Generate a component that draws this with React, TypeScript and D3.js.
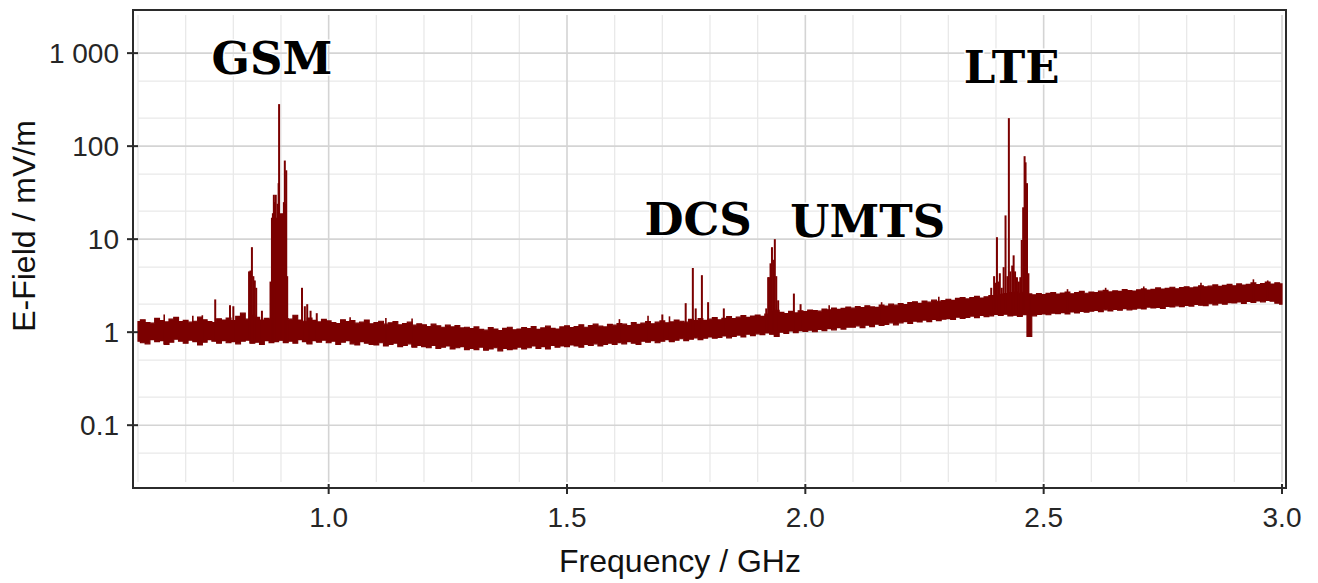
import React from "react";
import * as d3 from "d3";

// Sampling grid of the noise-floor envelope (GHz)
const FREQ_START = 0.6;
const FREQ_STEP = 0.01;

// Upper envelope of the noise floor (mV/m), one value every 0.01 GHz from 0.60 to 3.00
const floorHigh: number[] = [
  1.30, 1.36, 1.27, 1.25, 1.41, 1.33, 1.29, 1.38, 1.44, 1.30,
  1.34, 1.28, 1.31, 1.45, 1.36, 1.30, 1.27, 1.39, 1.35, 1.42,
  1.33, 1.48, 1.60, 1.38, 1.52, 1.44, 1.35, 1.41, 1.37, 1.50,
  1.46, 1.40, 1.38, 1.52, 1.35, 1.31, 1.42, 1.34, 1.29, 1.37,
  1.32, 1.27, 1.24, 1.36, 1.30, 1.33, 1.25, 1.28, 1.35, 1.23,
  1.27, 1.31, 1.22, 1.26, 1.30, 1.20, 1.24, 1.28, 1.19, 1.23,
  1.20, 1.15, 1.22, 1.17, 1.13, 1.19, 1.14, 1.18, 1.11, 1.13,
  1.09, 1.14, 1.07, 1.05, 1.12, 1.08, 1.04, 1.10, 1.13, 1.06,
  1.08, 1.12, 1.09, 1.15, 1.07, 1.11, 1.16, 1.10, 1.08, 1.14,
  1.17, 1.12, 1.15, 1.20, 1.13, 1.18, 1.22, 1.16, 1.14, 1.21,
  1.19, 1.24, 1.22, 1.18, 1.27, 1.21, 1.25, 1.30, 1.23, 1.28,
  1.32, 1.26, 1.29, 1.35, 1.31, 1.28, 1.37, 1.33, 1.40, 1.34,
  1.38, 1.43, 1.36, 1.41, 1.47, 1.40, 1.45, 1.51, 1.44, 1.49,
  1.53, 1.48, 1.56, 1.68, 1.72, 1.63, 1.58, 1.67, 1.61, 1.70,
  1.66, 1.73, 1.71, 1.68, 1.77, 1.74, 1.82, 1.76, 1.80, 1.86,
  1.81, 1.88, 1.84, 1.92, 1.87, 1.85, 1.96, 1.91, 2.00, 1.95,
  2.03, 1.98, 2.08, 2.12, 2.04, 2.16, 2.10, 2.21, 2.15, 2.19,
  2.26, 2.20, 2.31, 2.36, 2.28, 2.35, 2.42, 2.33, 2.40, 2.47,
  2.44, 2.55, 2.60, 2.66, 2.70, 2.62, 2.68, 2.58, 2.52, 2.60,
  2.54, 2.61, 2.66, 2.57, 2.63, 2.70, 2.59, 2.67, 2.74, 2.62,
  2.70, 2.66, 2.76, 2.81, 2.71, 2.78, 2.74, 2.86, 2.80, 2.77,
  2.85, 2.92, 2.84, 2.89, 2.99, 2.91, 2.95, 3.04, 2.93, 3.01,
  3.08, 2.99, 3.05, 3.15, 3.07, 3.12, 3.22, 3.10, 3.18, 3.26,
  3.15, 3.30, 3.21, 3.27, 3.38, 3.24, 3.33, 3.46, 3.29, 3.40,
  3.30,
];

// Lower envelope of the noise floor (mV/m), same grid
const floorLow: number[] = [
  0.80, 0.77, 0.75, 0.83, 0.79, 0.81, 0.74, 0.78, 0.84, 0.80,
  0.76, 0.82, 0.79, 0.73, 0.78, 0.83, 0.80, 0.76, 0.81, 0.77,
  0.79, 0.75, 0.80, 0.82, 0.76, 0.78, 0.74, 0.81, 0.77, 0.79,
  0.82, 0.77, 0.80, 0.76, 0.83, 0.79, 0.75, 0.81, 0.78, 0.82,
  0.77, 0.80, 0.74, 0.78, 0.81, 0.75, 0.73, 0.79, 0.76, 0.74,
  0.73, 0.77, 0.71, 0.74, 0.76, 0.70, 0.72, 0.75, 0.69, 0.72,
  0.70, 0.68, 0.72, 0.67, 0.69, 0.71, 0.66, 0.68, 0.70, 0.65,
  0.67, 0.65, 0.69, 0.64, 0.66, 0.68, 0.63, 0.67, 0.65, 0.66,
  0.69, 0.66, 0.68, 0.71, 0.67, 0.70, 0.66, 0.72, 0.69, 0.71,
  0.70, 0.73, 0.71, 0.69, 0.74, 0.72, 0.75, 0.71, 0.74, 0.76,
  0.74, 0.77, 0.75, 0.79, 0.76, 0.74, 0.80, 0.78, 0.81, 0.77,
  0.80, 0.83, 0.79, 0.82, 0.85, 0.81, 0.84, 0.87, 0.83, 0.86,
  0.89, 0.86, 0.88, 0.91, 0.87, 0.90, 0.93, 0.89, 0.95, 0.92,
  0.96, 0.94, 0.98, 0.95, 0.90, 1.00, 0.97, 1.03, 0.99, 1.04,
  1.02, 1.05, 1.01, 1.07, 1.04, 1.09, 1.06, 1.12, 1.08, 1.13,
  1.13, 1.17, 1.12, 1.19, 1.15, 1.22, 1.18, 1.21, 1.26, 1.20,
  1.26, 1.30, 1.24, 1.31, 1.29, 1.35, 1.30, 1.37, 1.33, 1.38,
  1.40, 1.37, 1.45, 1.41, 1.44, 1.49, 1.43, 1.51, 1.47, 1.50,
  1.55, 1.51, 1.56, 1.50, 1.52, 1.48, 1.54, 0.90, 1.50, 1.55,
  1.57, 1.54, 1.60, 1.58, 1.62, 1.57, 1.65, 1.61, 1.67, 1.64,
  1.68, 1.71, 1.66, 1.74, 1.69, 1.76, 1.72, 1.79, 1.74, 1.77,
  1.81, 1.78, 1.86, 1.82, 1.85, 1.80, 1.89, 1.87, 1.92, 1.88,
  1.94, 1.91, 1.99, 1.95, 1.93, 2.02, 1.97, 2.05, 2.00, 2.08,
  2.06, 2.11, 2.04, 2.14, 2.09, 2.17, 2.12, 2.20, 2.15, 2.05,
  2.00,
];

// Emission spikes: frequency (GHz) and peak field (mV/m)
const spikeFreq: number[] = [
  // GSM
  0.762, 0.793, 0.800, 0.833, 0.836, 0.839, 0.842, 0.845, 0.848, 0.860, 0.878,
  0.881, 0.883, 0.885, 0.887, 0.889, 0.891, 0.893, 0.895, 0.896, 0.898, 0.900,
  0.902, 0.904, 0.906, 0.908, 0.910, 0.911, 0.913, 0.944, 0.950, 0.955, 0.962, 0.975,
  // DCS
  1.700, 1.749, 1.764, 1.770, 1.783, 1.796, 1.829,
  // UMTS
  1.918, 1.922, 1.924, 1.927, 1.930, 1.933, 1.936, 1.939, 1.943, 1.976, 1.990,
  // LTE
  2.390, 2.396, 2.399, 2.402, 2.405, 2.408, 2.412, 2.416, 2.420, 2.424, 2.427,
  2.430, 2.434, 2.437, 2.440, 2.444, 2.448, 2.451, 2.454, 2.457, 2.460, 2.462,
  2.465, 2.468, 2.475,
];
const spikeValue: number[] = [
  // GSM
  2.25, 1.95, 1.9, 4.5, 4.6, 8.2, 4.0, 3.6, 3.0, 1.7, 3.5,
  17, 19, 30, 25, 30, 17, 24, 40, 283, 17, 19,
  17, 19, 25, 70, 24, 55, 4.0, 3.0, 1.9, 2.0, 1.7, 1.6,
  // DCS
  1.55, 2.05, 4.9, 1.8, 4.1, 2.1, 1.8,
  // UMTS
  1.8, 3.9, 3.9, 5.5, 8.2, 6.0, 10, 4.0, 2.2, 2.6, 2.0,
  // LTE
  3.0, 4.0, 3.4, 10.5, 3.5, 4.3, 3.0, 5.0, 18, 4.0, 200,
  4.5, 5.2, 6.7, 4.5, 3.9, 3.5, 3.9, 9.8, 22, 78, 67,
  40, 4.3, 2.5,
];

// Small noise spikes above the floor
const noiseSpikeFreq: number[] = [
  0.655, 0.715, 0.735, 1.045, 1.12, 1.175, 1.61, 1.67, 1.715, 2.05, 2.16, 2.28,
  2.55, 2.63, 2.71, 2.83, 2.94, 2.97,
];
const noiseSpikeValue: number[] = [
  1.55, 1.5, 1.52, 1.45, 1.42, 1.4, 1.38, 1.5, 1.48, 1.95, 2.1, 2.4,
  2.9, 3.0, 3.1, 3.4, 3.7, 3.6,
];

// Band annotations
const bandNames: string[] = ["GSM", "DCS", "UMTS", "LTE"];
const bandLabelFreq: number[] = [0.881, 1.775, 2.131, 2.433];
const bandLabelValue: number[] = [594, 11.0, 10.5, 480];

// Axes
const xTicks: number[] = [1.0, 1.5, 2.0, 2.5, 3.0];
const xMinorGrid: number[] = [
  0.6, 0.7, 0.8, 0.9, 1.1, 1.2, 1.3, 1.4, 1.6, 1.7, 1.8, 1.9, 2.1, 2.2, 2.3, 2.4,
  2.6, 2.7, 2.8, 2.9,
];
const yTicks: number[] = [0.1, 1, 10, 100, 1000];
const yTickLabels: string[] = ["0.1", "1", "10", "100", "1 000"];
const yMinorGrid: number[] = [0.05, 0.2, 0.5, 2, 5, 20, 50, 200, 500];

const xTitle = "Frequency / GHz";
const yTitle = "E-Field / mV/m";

const W = 1318;
const H = 583;
const LINE = "#7b0000";

export default function App() {
  const x = d3.scaleLinear().domain([0.6, 3.0]).range([138, 1282]);
  const y = d3.scaleLog().domain([0.0245, 2570]).range([482, 15]);

  const floor = floorHigh.map((hi, i) => ({
    f: FREQ_START + i * FREQ_STEP,
    hi,
    lo: floorLow[i],
  }));

  const area = d3
    .area<{ f: number; hi: number; lo: number }>()
    .x((d) => x(d.f))
    .y0((d) => y(d.lo))
    .y1((d) => y(d.hi))
    .curve(d3.curveStep);

  const baseAt = (f: number) => {
    const idx = Math.max(0, Math.min(floorLow.length - 1, Math.round((f - FREQ_START) / FREQ_STEP)));
    return floorLow[idx];
  };
  const spikes = spikeFreq.map((f, i) => ({ f, v: spikeValue[i], base: baseAt(f) }));
  const noiseSpikes = noiseSpikeFreq.map((f, i) => ({ f, v: noiseSpikeValue[i], base: baseAt(f) }));

  const frame = { x0: 133, x1: 1286, y0: 10, y1: 488 };
  const sans = "'Liberation Sans', Arial, sans-serif";

  return (
    <div style={{ position: "absolute", left: 0, top: 0 }}>
      <svg width={W} height={H} style={{ display: "block", background: "#fff" }}>
        {/* minor grid */}
        <g stroke="#e9e9e9" strokeWidth={1.3}>
          {xMinorGrid.map((v) => (
            <line key={"xm" + v} x1={x(v)} x2={x(v)} y1={15} y2={482} />
          ))}
          {yMinorGrid.map((v) => (
            <line key={"ym" + v} x1={138} x2={1282} y1={y(v)} y2={y(v)} />
          ))}
        </g>
        {/* major grid */}
        <g stroke="#d4d4d4" strokeWidth={1.6}>
          {xTicks.map((v) => (
            <line key={"xg" + v} x1={x(v)} x2={x(v)} y1={15} y2={482} />
          ))}
          {yTicks.map((v) => (
            <line key={"yg" + v} x1={138} x2={1282} y1={y(v)} y2={y(v)} />
          ))}
        </g>

        {/* noise floor */}
        <path d={area(floor) || ""} fill={LINE} stroke={LINE} strokeWidth={1.2} />
        {/* spikes */}
        <g stroke={LINE} strokeWidth={1.6}>
          {noiseSpikes.map((s, i) => (
            <line key={"n" + i} x1={x(s.f)} x2={x(s.f)} y1={y(s.base)} y2={y(s.v)} />
          ))}
        </g>
        <g stroke={LINE} strokeWidth={2}>
          {spikes.map((s, i) => (
            <line key={"s" + i} x1={x(s.f)} x2={x(s.f)} y1={y(s.base)} y2={y(s.v)} />
          ))}
        </g>

        {/* frame */}
        <rect
          x={frame.x0}
          y={frame.y0}
          width={frame.x1 - frame.x0}
          height={frame.y1 - frame.y0}
          fill="none"
          stroke="#2b2b2b"
          strokeWidth={2}
        />

        {/* ticks */}
        <g stroke="#2b2b2b" strokeWidth={2}>
          {yTicks.map((v) => (
            <line key={"yt" + v} x1={127} x2={138} y1={y(v)} y2={y(v)} />
          ))}
          {xTicks.map((v) => (
            <line key={"xt" + v} x1={x(v)} x2={x(v)} y1={484} y2={494} />
          ))}
        </g>
        <g fontFamily={sans} fontSize={28} fill="#262626">
          {yTicks.map((v, i) => (
            <text key={"yl" + v} x={119} y={y(v)} textAnchor="end" dominantBaseline="central">
              {yTickLabels[i]}
            </text>
          ))}
          {xTicks.map((v) => (
            <text key={"xl" + v} x={x(v)} y={527} textAnchor="middle">
              {v.toFixed(1)}
            </text>
          ))}
        </g>

        {/* axis titles */}
        <text x={680} y={572} textAnchor="middle" fontFamily={sans} fontSize={32} fill="#111">
          {xTitle}
        </text>
        <text
          transform={`translate(35, 226) rotate(-90)`}
          textAnchor="middle"
          fontFamily={sans}
          fontSize={32}
          fill="#111"
        >
          {yTitle}
        </text>

        {/* band labels */}
        <g fontFamily="'DejaVu Serif', serif" fontWeight="bold" fontSize={45} fill="#000">
          {bandNames.map((n, i) => (
            <text
              key={n}
              x={x(bandLabelFreq[i])}
              y={y(bandLabelValue[i])}
              textAnchor="middle"
              stroke="#fff"
              strokeWidth={3}
              paintOrder="stroke"
            >
              {n}
            </text>
          ))}
        </g>
      </svg>
    </div>
  );
}
